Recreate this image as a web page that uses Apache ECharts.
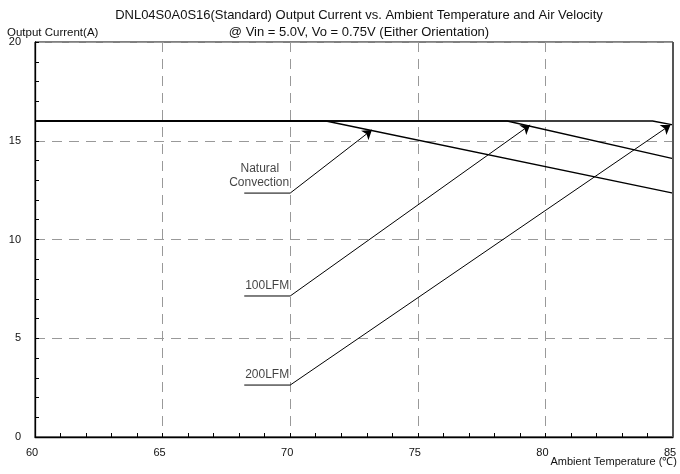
<!DOCTYPE html>
<html>
<head>
<meta charset="utf-8">
<script src="https://cdn.jsdelivr.net/npm/echarts@6/dist/echarts.min.js"></script>
<style>
  html, body { margin: 0; padding: 0; background: #fff; }
  #chart { width: 680px; height: 474px; }
</style>
</head>
<body>
<div id="chart"></div>
<script>
// derating curves, [temperature, current]
const naturalConv = [[60, 16], [71.4, 16], [85, 12.35]];
const lfm100 = [[60, 16], [78.5, 16], [85, 14.1]];
const lfm200 = [[60, 16], [84.2, 16], [85, 15.8]];

// callouts: leader start, elbow, arrow tip
const leaders = [
  [[68.2, 12.35], [70, 12.35]],
  [[68.2, 7.14], [70, 7.14]],
  [[68.2, 2.63], [70, 2.63]]
];
const arrowTips = [[73.2, 15.55], [79.4, 15.8], [84.9, 15.8]];
const calloutText = [
  [70, 12.35, '{a|Natural}\n{b|Convection}'],
  [70, 7.14, '100LFM'],
  [70, 2.63, '200LFM']
];

const titleLines = 'DNL04S0A0S16(Standard) Output Current vs. Ambient Temperature and Air Velocity\n@ Vin = 5.0V, Vo = 0.75V (Either Orientation)';
const yName = 'Output Current(A)';
const xName = 'Ambient Temperature (\u2103)';

const FONT = 'Liberation Sans, Arial, sans-serif';
const chart = echarts.init(document.getElementById('chart'), null, { renderer: 'canvas' });

const curveStyle = { color: '#000', width: 1.3 };
const thinStyle = { color: '#000', width: 1 };

const leaderSeries = leaders.map(seg => ({
  type: 'line', data: seg, symbol: 'none', lineStyle: thinStyle, z: 4, silent: true
}));

chart.setOption({
  animation: false,
  backgroundColor: '#fff',
  title: {
    text: titleLines,
    left: 354,
    top: 2,
    textAlign: 'center',
    textStyle: { fontFamily: FONT, fontSize: 13, fontWeight: 'normal', color: '#111', lineHeight: 17 }
  },
  grid: {
    left: 35, right: 7, top: 42, bottom: 37,
    show: true, borderColor: '#000', borderWidth: 1
  },
  xAxis: {
    type: 'value', min: 60, max: 85, interval: 5,
    axisLine: { lineStyle: { color: '#000', width: 1.3 } },
    axisTick: { inside: true, length: 4, lineStyle: { color: '#000' } },
    minorTick: { show: true, splitNumber: 5, length: 4, lineStyle: { color: '#000' } },
    axisLabel: { fontFamily: FONT, fontSize: 11, color: '#111', margin: 10, padding: [0, 6, 0, 0] },
    splitLine: { show: true, lineStyle: { color: '#999', type: [10, 7], width: 1 } }
  },
  yAxis: {
    type: 'value', min: 0, max: 20, interval: 5,
    axisLine: { lineStyle: { color: '#000', width: 1.3 } },
    axisTick: { inside: true, length: 4, lineStyle: { color: '#000' } },
    minorTick: { show: true, splitNumber: 5, length: 4, lineStyle: { color: '#000' } },
    axisLabel: { fontFamily: FONT, fontSize: 11, color: '#111', margin: 14 },
    splitLine: { show: true, lineStyle: { color: '#999', type: [10, 7], width: 1 } }
  },
  graphic: [
    { type: 'text', left: 7, top: 27, style: { text: yName, font: '11.5px ' + FONT, fill: '#111' } },
    { type: 'text', right: 3, top: 456, style: { text: xName, font: '11px ' + FONT, fill: '#111' } },
    // heavier right frame edge as in the source plot
    { type: 'rect', left: 672, top: 42, shape: { width: 2, height: 395 }, style: { fill: '#555' }, z: 10 }
  ],
  series: [
    { type: 'line', data: naturalConv, symbol: 'none', lineStyle: curveStyle, z: 3 },
    { type: 'line', data: lfm100, symbol: 'none', lineStyle: curveStyle, z: 3 },
    { type: 'line', data: lfm200, symbol: 'none', lineStyle: curveStyle, z: 3 },
    ...leaderSeries,
    {
      type: 'lines',
      coordinateSystem: 'cartesian2d',
      symbol: ['none', 'arrow'],
      symbolSize: [7, 9],
      lineStyle: { color: '#000', width: 1, opacity: 1, curveness: 0 },
      data: leaders.map((seg, i) => ({ coords: [seg[1], arrowTips[i]] })),
      z: 4
    },
    {
      type: 'scatter',
      data: calloutText,
      symbolSize: 0,
      silent: true,
      label: {
        show: true,
        position: [-1, -3],
        align: 'right',
        verticalAlign: 'bottom',
        formatter: p => p.data[2],
        fontFamily: FONT,
        fontSize: 12,
        color: '#111',
        lineHeight: 14,
        rich: {
          a: { fontFamily: FONT, fontSize: 12, color: '#111', lineHeight: 14, padding: [0, 10, 0, 0] },
          b: { fontFamily: FONT, fontSize: 12, color: '#111', lineHeight: 14 }
        }
      },
      z: 5
    }
  ]
});
</script>
</body>
</html>
